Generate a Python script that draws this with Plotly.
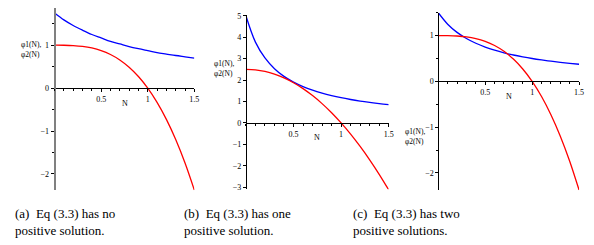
import plotly.graph_objects as go

# Sample points (N from 0 to 1.5)
N = [0.0, 0.1, 0.2, 0.3, 0.4, 0.5, 0.6, 0.7, 0.8, 0.9, 1.0, 1.1, 1.2, 1.3, 1.4, 1.5]

phi1_a = [1.75, 1.59, 1.46, 1.35, 1.25, 1.17, 1.09, 1.03, 0.97, 0.92, 0.875, 0.83, 0.795, 0.76, 0.73, 0.70]
phi2_a = [1.0, 0.999, 0.992, 0.973, 0.936, 0.875, 0.784, 0.657, 0.488, 0.271, 0.0, -0.331, -0.728, -1.197, -1.744, -2.375]

phi1_b = [5.0, 3.77, 3.03, 2.53, 2.17, 1.905, 1.695, 1.527, 1.389, 1.274, 1.176, 1.093, 1.02, 0.957, 0.901, 0.851]
phi2_b = [2.5, 2.475, 2.4, 2.275, 2.1, 1.875, 1.6, 1.275, 0.9, 0.475, 0.0, -0.525, -1.1, -1.725, -2.4, -3.125]

phi1_c = [1.5, 1.25, 1.071, 0.938, 0.833, 0.75, 0.682, 0.625, 0.577, 0.536, 0.5, 0.469, 0.441, 0.417, 0.395, 0.375]
phi2_c = [1.0, 0.999, 0.992, 0.973, 0.936, 0.875, 0.784, 0.657, 0.488, 0.271, 0.0, -0.331, -0.728, -1.197, -1.744, -2.375]

x_ticks = [0.5, 1, 1.5]
x_tick_text = ["0.5", "1", "1.5"]
y_ticks_a = [-2, -1, 0, 1]
y_ticks_b = [-3, -2, -1, 0, 1, 2, 3, 4, 5]
y_ticks_c = [-2, -1, 0, 1]

captions = [
    ("(a)\u00a0 Eq (3.3) has no", "positive solution."),
    ("(b)\u00a0 Eq (3.3) has one", "positive solution."),
    ("(c)\u00a0 Eq (3.3) has two", "positive solutions."),
]

W, H = 594, 245
SERIF = "Liberation Serif, Times New Roman, serif"

# panel geometry in pixels: (x_left, x_right, y_top, y_bottom, y_range)
panels = [
    dict(x0=55, x1=196, yt=5, yb=192, yr=[-2.38, 1.87], blue=phi1_a, red=phi2_a,
         yticks=y_ticks_a, minor=0.5, axcol="#808080", axw=2,
         lab=(19, 43), nlab=(126, 103), cap=13),
    dict(x0=248, x1=392, yt=12, yb=191, yr=[-3.1, 5.05], blue=phi1_b, red=phi2_b,
         yticks=y_ticks_b, minor=None, axcol="#000000", axw=1,
         lab=(214, 62), nlab=(320, 138), cap=184),
    dict(x0=442, x1=584, yt=10, yb=192, yr=[-2.38, 1.5], blue=phi1_c, red=phi2_c,
         yticks=y_ticks_c, minor=0.5, axcol="#000000", axw=1,
         lab=(406, 132), nlab=(513, 96), cap=354),
]

fig = go.Figure()
layout = dict(
    width=W, height=H, margin=dict(l=0, r=0, t=0, b=0),
    paper_bgcolor="white", plot_bgcolor="white", showlegend=False,
)
annotations = []

for i, p in enumerate(panels):
    k = "" if i == 0 else str(i + 1)
    xa, ya = "x" + k, "y" + k
    xdom = [p["x0"] / W, p["x1"] / W]
    ydom = [1 - p["yb"] / H, 1 - p["yt"] / H]
    y0, y1 = p["yr"]
    xpos = ydom[0] + (0 - y0) / (y1 - y0) * (ydom[1] - ydom[0])

    fig.add_trace(go.Scatter(x=N, y=p["blue"], mode="lines", xaxis=xa, yaxis=ya,
                             line=dict(color="#0000ff", width=1.3, shape="spline", smoothing=1.0)))
    fig.add_trace(go.Scatter(x=N, y=p["red"], mode="lines", xaxis=xa, yaxis=ya,
                             line=dict(color="#ff0000", width=1.3, shape="spline", smoothing=1.0)))

    layout["xaxis" + k] = dict(
        domain=xdom, range=[0, 1.5], anchor="free", position=xpos,
        showline=True, linecolor="black", linewidth=1, showgrid=False, zeroline=False,
        tickvals=x_ticks, ticktext=x_tick_text, ticks="outside", ticklen=3, tickcolor="black",
        minor=dict(dtick=0.1, tick0=0, ticks="outside", ticklen=2, tickcolor="black"),
        tickfont=dict(family=SERIF, size=8, color="black"), fixedrange=True,
    )
    ydict = dict(
        domain=ydom, range=p["yr"], anchor="free", position=xdom[0],
        showline=True, linecolor=p["axcol"], linewidth=p["axw"], showgrid=False, zeroline=False,
        tickvals=p["yticks"], ticks="outside", ticklen=3, tickcolor="black",
        tickfont=dict(family=SERIF, size=8, color="black"), fixedrange=True,
    )
    if p["minor"]:
        ydict["minor"] = dict(dtick=p["minor"], tick0=0, ticks="outside", ticklen=2, tickcolor="black")
    layout["yaxis" + k] = ydict

    lx, ly = p["lab"]
    annotations.append(dict(x=lx / W, y=1 - ly / H, xref="paper", yref="paper", xanchor="left",
                            yanchor="middle", showarrow=False, text="φ1(N),",
                            font=dict(family=SERIF, size=7.5, color="black")))
    annotations.append(dict(x=lx / W, y=1 - (ly + 10) / H, xref="paper", yref="paper", xanchor="left",
                            yanchor="middle", showarrow=False, text="φ2(N)",
                            font=dict(family=SERIF, size=7.5, color="black")))
    nx, ny = p["nlab"]
    annotations.append(dict(x=nx / W, y=1 - ny / H, xref="paper", yref="paper", xanchor="center",
                            yanchor="middle", showarrow=False, text="N",
                            font=dict(family=SERIF, size=8, color="black")))
    c1, c2 = captions[i]
    annotations.append(dict(x=p["cap"] / W, y=1 - 216 / H, xref="paper", yref="paper", xanchor="left",
                            yanchor="middle", showarrow=False, text=c1,
                            font=dict(family=SERIF, size=13, color="black")))
    annotations.append(dict(x=p["cap"] / W, y=1 - 233 / H, xref="paper", yref="paper", xanchor="left",
                            yanchor="middle", showarrow=False, text=c2,
                            font=dict(family=SERIF, size=13, color="black")))

layout["annotations"] = annotations
fig.update_layout(**layout)
fig.write_html("out.html", config={"displayModeBar": False},
               post_script="document.body.style.margin='0';document.body.style.overflow='hidden';")
